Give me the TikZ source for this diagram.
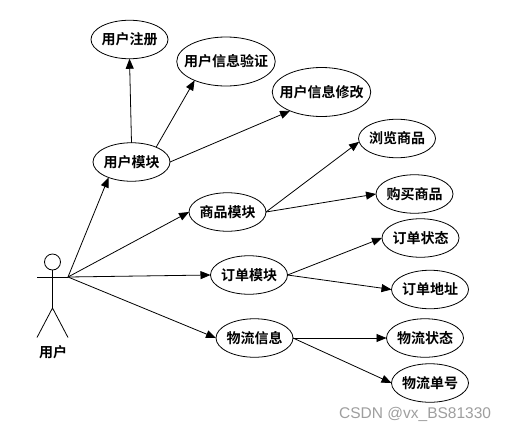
\documentclass[tikz,border=0pt]{standalone}
\usepackage{fontspec}
\usetikzlibrary{shapes.geometric,arrows.meta}
\setmainfont{Liberation Sans}
\newfontfamily\cjk{Noto Sans CJK SC}[BoldFont={Noto Sans CJK SC Bold}]
\newcommand{\casetext}[1]{\makebox[0pt]{#1}}
\tikzset{
  usecase/.style={draw,ellipse,line width=.8pt,inner sep=0pt,outer sep=0pt,font=\cjk\bfseries\fontsize{14}{15}\selectfont,text=black},
  small/.style={usecase,minimum width=77pt,minimum height=38.5pt},
  large/.style={usecase,minimum width=98.5pt,minimum height=49pt},
  conn/.style={line width=.8pt,-{Triangle[length=10pt,width=8pt]}},
  limb/.style={line width=.8pt}
}
\begin{document}
\begin{tikzpicture}[x=1pt,y=-1pt]
\useasboundingbox (0,0) rectangle (505,431);
% use cases
\node[small] (reg)  at (129.5,39.5) {\casetext{用户注册}};
\node[large] (ver)  at (226,61.5)   {\casetext{用户信息验证}};
\node[large] (mod)  at (321.5,92)   {\casetext{用户信息修改}};
\node[small] (um)   at (131.5,162)  {\casetext{用户模块}};
\node[small] (gm)   at (227.5,212)  {\casetext{商品模块}};
\node[small] (gb)   at (397,138.5)  {\casetext{浏览商品}};
\node[small] (gp)   at (414.5,194)  {\casetext{购买商品}};
\node[small] (om)   at (249,275)    {\casetext{订单模块}};
\node[small] (os)   at (420.5,238)  {\casetext{订单状态}};
\node[small] (oa)   at (430,289.5)  {\casetext{订单地址}};
\node[small] (lm)   at (254.5,338)  {\casetext{物流信息}};
\node[small] (ls)   at (425,338)    {\casetext{物流状态}};
\node[small] (ln)   at (430,383)    {\casetext{物流单号}};
% actor
\node[draw,circle,line width=.8pt,minimum size=16pt,inner sep=0pt,outer sep=0pt] (head) at (52.5,262) {};
\coordinate (neck) at (52.5,277);
\coordinate (hip) at (52.5,308);
\coordinate (handl) at (37,277);
\coordinate (handr) at (68,277);
\coordinate (footl) at (37,337.5);
\coordinate (footr) at (68,337.5);
\draw[limb] (head.south) -- (hip);
\draw[limb] (handl) -- (handr);
\draw[limb] (footl) -- (hip) -- (footr);
\node[font=\cjk\bfseries\fontsize{14}{15}\selectfont] (actor) at (53,352) {用户};
% connectors
\draw[conn] (handr) -- (um.214);
\draw[conn] (handr) -- (gm.180);
\draw[conn] (handr) -- (om.180);
\draw[conn] (handr) -- (lm.180);
\draw[conn] (um.90) -- (reg.270);
\draw[conn] (um.31) -- (ver.211);
\draw[conn] (um.0) -- (mod.211);
\draw[conn] (gm.0) -- (gb.185);
\draw[conn] (gm.0) -- (gp.180);
\draw[conn] (om.0) -- (os.180);
\draw[conn] (om.0) -- (oa.180);
\draw[conn] (lm.0) -- (ls.180);
\draw[conn] (lm.0) -- (ln.180);
% watermark
\node[anchor=west,inner sep=0pt,text=black!38,font=\fontsize{15.5}{16}\selectfont] (mark) at (339,414.5) {CSDN @vx\_BS81330};
\end{tikzpicture}
\end{document}
